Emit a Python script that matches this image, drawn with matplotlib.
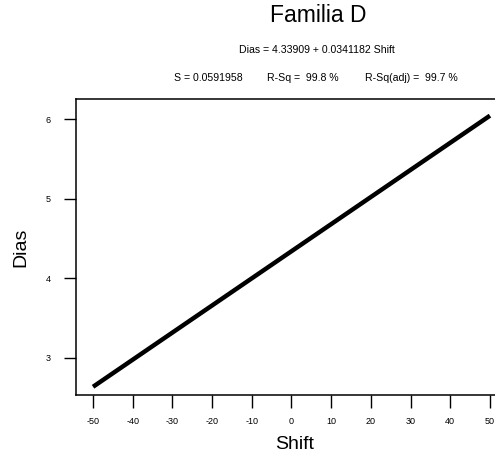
import numpy as np
import matplotlib
matplotlib.use('Agg')
import matplotlib.pyplot as plt

plt.rcParams['font.family'] = ['Liberation Sans', 'DejaVu Sans']
plt.rcParams['axes.unicode_minus'] = False

# Fitted regression: Dias = intercept + slope * Shift
intercept = 4.33909
slope = 0.0341182
s_value = 0.0591958
r_sq = 99.8
r_sq_adj = 99.7

shift = np.array([-50, 50])
dias = intercept + slope * shift

x_ticks = [-50, -40, -30, -20, -10, 0, 10, 20, 30, 40, 50]
y_ticks = [3, 4, 5, 6]

fig = plt.figure(figsize=(4.95, 4.54), dpi=100)
ax = fig.add_axes([0.1535, 0.130, 0.882, 0.652])

ax.plot(shift, dias, color='black', linewidth=3.2, solid_capstyle='butt')

ax.set_xlim(-54.3, 55.7)
ax.set_ylim(2.53, 6.255)
ax.set_xticks(x_ticks)
ax.set_yticks(y_ticks)
ax.tick_params(axis='both', direction='out', length=9, width=1, labelsize=6.5, pad=7)
ax.tick_params(axis='y', length=9, pad=9)
for sp in ax.spines.values():
    sp.set_linewidth(1.1)

ax.set_xlabel('Shift', fontsize=14, labelpad=7)
ax.set_ylabel('Dias', fontsize=14, labelpad=12)

fig.text(0.642, 0.965, 'Familia D', ha='center', va='center', fontsize=16.5)
fig.text(0.641, 0.890, 'Dias = %.5f + %.7f Shift' % (intercept, slope),
         ha='center', va='center', fontsize=7.6)
fig.text(0.351, 0.828, 'S = %.7f' % s_value, ha='left', va='center', fontsize=7.6)
fig.text(0.539, 0.828, 'R-Sq =  %.1f %%' % r_sq, ha='left', va='center', fontsize=7.6)
fig.text(0.737, 0.828, 'R-Sq(adj) =  %.1f %%' % r_sq_adj, ha='left', va='center', fontsize=7.6)

fig.savefig('out.png', dpi=100)
